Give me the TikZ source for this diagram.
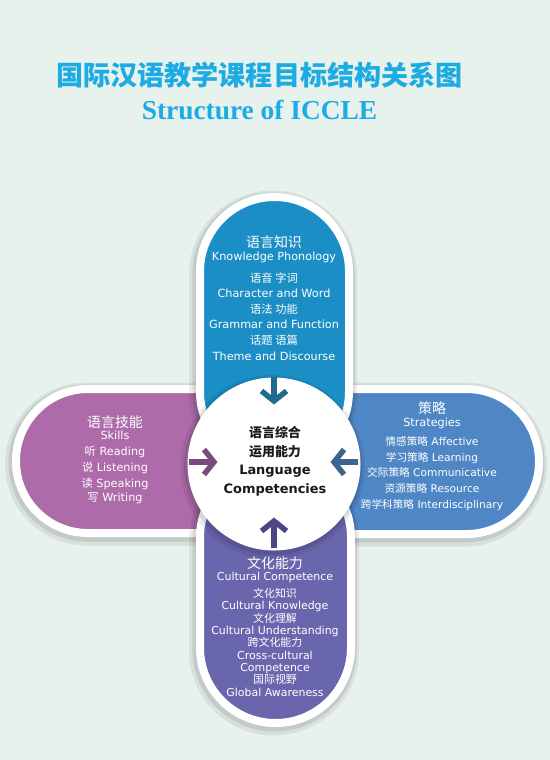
\documentclass[tikz,border=0pt]{standalone}
\usepackage{fontspec}
\setmainfont{DejaVu Sans}
\newfontfamily\cjk{Noto Sans CJK SC}
\newfontfamily\serifen{Liberation Serif}
\usepackage{xcolor}
\usetikzlibrary{arrows.meta}
\definecolor{bgmint}{RGB}{232,242,237}
\definecolor{titlecyan}{RGB}{29,171,227}
\definecolor{knowblue}{RGB}{27,143,197}
\definecolor{skillpurple}{RGB}{173,108,169}
\definecolor{stratblue}{RGB}{79,134,197}
\definecolor{cultviolet}{RGB}{105,102,174}
\definecolor{knowarr}{RGB}{31,108,140}
\definecolor{skillarr}{RGB}{122,74,125}
\definecolor{stratarr}{RGB}{62,101,144}
\definecolor{cultarr}{RGB}{74,71,132}
\newcommand{\zh}[1]{{\cjk #1}}
\newcommand{\hd}[1]{{\cjk\fontsize{14}{14}\selectfont #1}}
\pgfdeclareradialshading{plate}{\pgfpoint{0bp}{0bp}}{color(0bp)=(white); color(34bp)=(white); color(50bp)=(black!9)}

\begin{document}
\begin{tikzpicture}[x=1bp, y=-1bp,
  halo/.style={
    preaction={draw=black, opacity=.07, line width=#1+11bp,
               transform canvas={xshift=-1.5bp, yshift=-3bp}},
    preaction={draw=black, opacity=.09, line width=#1+5bp,
               transform canvas={xshift=-1bp, yshift=-2bp}}},
  petal/.style={draw=white, line width=8bp, halo=8bp},
  core/.style={circle, minimum size=172bp, inner sep=0pt, shade, shading=plate,
               draw=white, line width=1bp, halo=1bp},
  ptext/.style={text=white, align=center, inner sep=0pt, anchor=north},
  feed/.style={line width=5.5bp,
               -{Straight Barb[length=10bp, width=25bp, line width=5.5bp]}},
]
\path[fill=bgmint, use as bounding box] (0,0) rectangle (550,760);

\node[font=\cjk\bfseries\fontsize{27.2}{28}\selectfont, text=titlecyan]
  (zhtitle) at (259.5,75.5) {国际汉语教学课程目标结构关系图};
\node[font=\serifen\bfseries\fontsize{27.5}{28}\selectfont, text=titlecyan]
  (entitle) at (259.5,110) {Structure of ICCLE};

\node[petal, fill=skillpurple, minimum width=270bp, minimum height=144bp,
  rounded corners=71.9bp] (skill) at (151,461) {};
\node[petal, fill=stratblue, minimum width=277bp, minimum height=145bp,
  rounded corners=72.4bp] (strat) at (400.5,461.5) {};
\node[petal, fill=knowblue, minimum width=149bp, minimum height=269bp,
  rounded corners=74.4bp] (know) at (274.5,331.5) {};
\node[petal, fill=cultviolet, minimum width=151bp, minimum height=261bp,
  rounded corners=75.4bp] (cult) at (275.5,592.5) {};
\node[core] (core) at (274,464) {};

\node[ptext, font=\fontsize{11.3}{16}\selectfont] (knowtxt) at (274,235.5)
  {\hd{语言知识}\\[-3.2bp]Knowledge Phonology\\[6bp]\zh{语音 字词}\\[-1bp]%
   Character and Word\\\zh{语法 功能}\\Grammar and Function\\%
   \zh{话题 语篇}\\Theme and Discourse};
\node[ptext, font=\fontsize{11.3}{16}\selectfont] (skilltxt) at (115,415.5)
  {\hd{语言技能}\\[-4.2bp]Skills\\\zh{听} Reading\\\zh{说} Listening\\%
   \zh{读} Speaking\\[-1bp]\zh{写} Writing};
\node[ptext, font=\fontsize{10.7}{15.7}\selectfont] (strattxt) at (432,401.7)
  {\hd{策略}\\[-2.7bp]{\fontsize{11.3}{15.7}\selectfont Strategies}\\[3.3bp]%
   \zh{情感策略} Affective\\\zh{学习策略} Learning\\\zh{交际策略} Communicative\\%
   \zh{资源策略} Resource\\\zh{跨学科策略} Interdisciplinary};
\node[ptext, font=\fontsize{11}{12.4}\selectfont] (culttxt) at (275,556)
  {\hd{文化能力}\\Cultural Competence\\[4.6bp]\zh{文化知识}\\Cultural Knowledge\\%
   \zh{文化理解}\\Cultural Understanding\\\zh{跨文化能力}\\Cross-cultural\\%
   Competence\\\zh{国际视野}\\Global Awareness};
\node[ptext, text=black!90, font=\bfseries\fontsize{13}{19}\selectfont]
  (coretxt) at (275,425.7)
  {\zh{语言综合}\\\zh{运用能力}\\Language\\Competencies};

\draw[feed, knowarr] ([yshift=1bp]core.north) -- ([yshift=-27bp]core.north);
\draw[feed, skillarr] ([xshift=1bp, yshift=2bp]core.west)
  -- ([xshift=30bp, yshift=2bp]core.west);
\draw[feed, stratarr] ([xshift=-3bp, yshift=2bp]core.east)
  -- ([xshift=-30bp, yshift=2bp]core.east);
\draw[feed, cultarr] ([yshift=3bp]core.south) -- ([yshift=33bp]core.south);
\end{tikzpicture}
\end{document}
